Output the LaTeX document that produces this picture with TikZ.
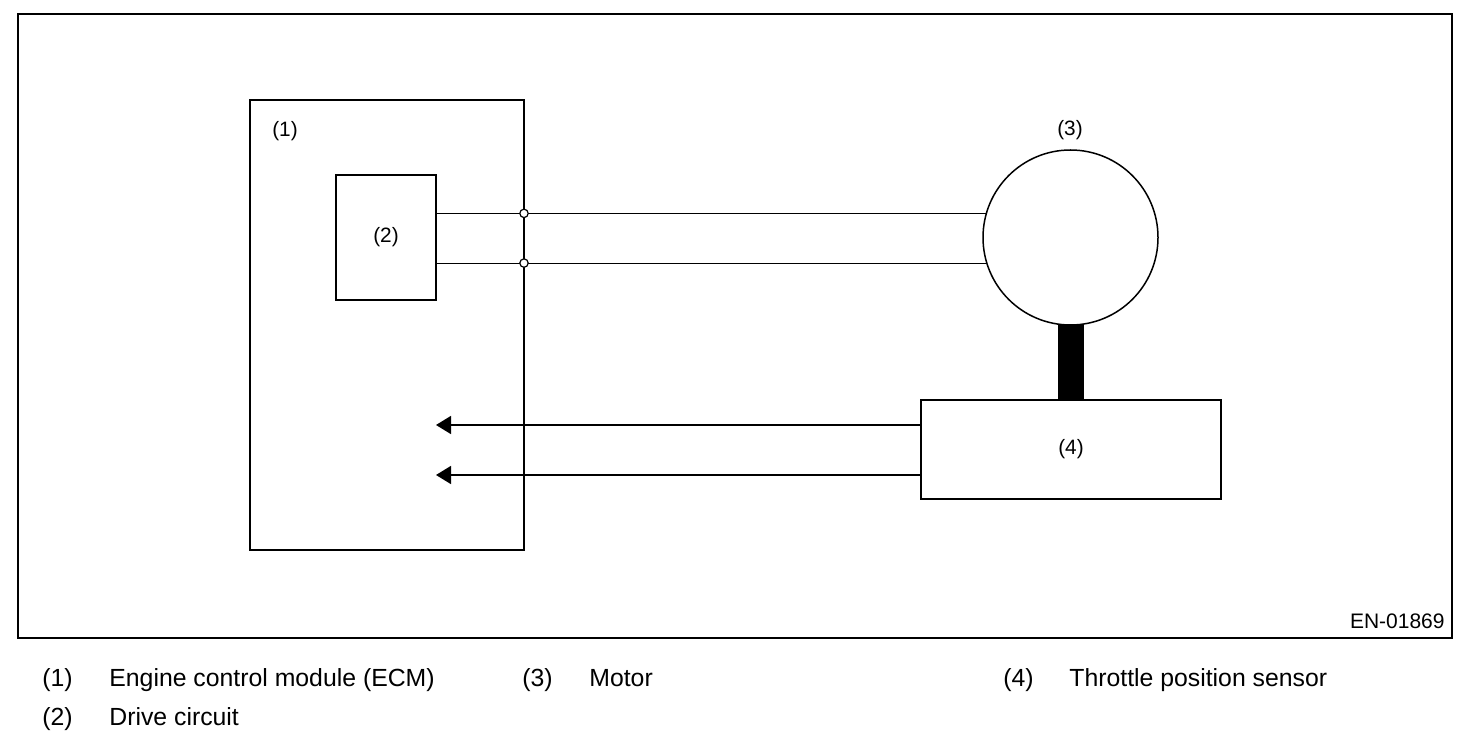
\documentclass[tikz,border=0pt]{standalone}
\usepackage{fontspec}
\setmainfont{Liberation Sans}
\usepackage{xcolor}
\usepackage{tikz}
\usetikzlibrary{calc,arrows.meta}
\definecolor{paper}{HTML}{FFFFFF}
\definecolor{ink}{HTML}{000000}
\tikzset{
  panelEdge/.style={draw=ink, line width=1pt, inner sep=0pt, outer sep=0pt},
  boxEdge/.style={draw=ink, line width=0.75pt, inner sep=0pt, outer sep=0pt},
  wire/.style={draw=ink, line width=0.55pt},
  sigArrow/.style={draw=ink, line width=0.75pt, -{Triangle[length=7.5pt,width=9pt]}},
  tapDot/.style={circle, draw=ink, fill=paper, line width=0.6pt, minimum size=4.2pt, inner sep=0pt},
  partLbl/.style={text=ink, font=\fontsize{10.4}{12}\selectfont, inner sep=0pt},
  codeLbl/.style={text=ink, font=\fontsize{10.5}{12}\selectfont, inner sep=0pt, anchor=base east},
  legendLbl/.style={text=ink, font=\fontsize{12.4}{14}\selectfont, inner sep=0pt, anchor=base west},
}

\begin{document}
\begin{tikzpicture}[x=0.5pt, y=-0.5pt]
  \useasboundingbox[fill=paper] (0,0) rectangle (1472,742);

  \node[panelEdge, minimum width=717pt, minimum height=312pt] (panel) at (735,326) {};
  \node[codeLbl] (code) at (1445,628) {EN-01869};

  % ECM with drive circuit
  \node[boxEdge, minimum width=137pt, minimum height=225pt] (ecm) at (387,325) {};
  \node[boxEdge, minimum width=50pt, minimum height=62.5pt] (drive) at (386,237.5) {};
  \node[partLbl] (ecmLbl) at (285,131) {(1)};
  \node[partLbl] (driveLbl) at (drive) {(2)};

  % motor and sensor
  \node[boxEdge, circle, minimum size=87.5pt] (motor) at (1070.5,237.5) {};
  \node[partLbl] (motorLbl) at (1070,130) {(3)};
  \node[boxEdge, minimum width=150pt, minimum height=49.5pt] (tps) at (1071,449.5) {};
  \node[partLbl] (tpsLbl) at (tps) {(4)};
  \fill[ink] ($(motor.south)+(-13,0)$) rectangle ($(tps.north)+(13,0)$);

  % drive lines
  \draw[wire] (drive.east |- motor.164.4) -- (motor.164.4);
  \draw[wire] (drive.east |- motor.197.6) -- (motor.197.6);
  \node[tapDot] (tapA) at (ecm.east |- motor.164.4) {};
  \node[tapDot] (tapB) at (ecm.east |- motor.197.6) {};

  % sensor signals
  \coordinate (sigA) at ($(tps.west)+(0,-24.5)$);
  \coordinate (sigB) at ($(tps.west)+(0,25.5)$);
  \draw[sigArrow] (sigA) -- (sigA -| drive.east);
  \draw[sigArrow] (sigB) -- (sigB -| drive.east);

  % legend
  \node[legendLbl] (k1) at (42,686) {(1)};
  \node[legendLbl] (t1) at (109,686) {Engine control module (ECM)};
  \node[legendLbl] (k2) at (42,725) {(2)};
  \node[legendLbl] (t2) at (109,725) {Drive circuit};
  \node[legendLbl] (k3) at (522,686) {(3)};
  \node[legendLbl] (t3) at (589,686) {Motor};
  \node[legendLbl] (k4) at (1003,686) {(4)};
  \node[legendLbl] (t4) at (1069,686) {Throttle position sensor};
\end{tikzpicture}
\end{document}
